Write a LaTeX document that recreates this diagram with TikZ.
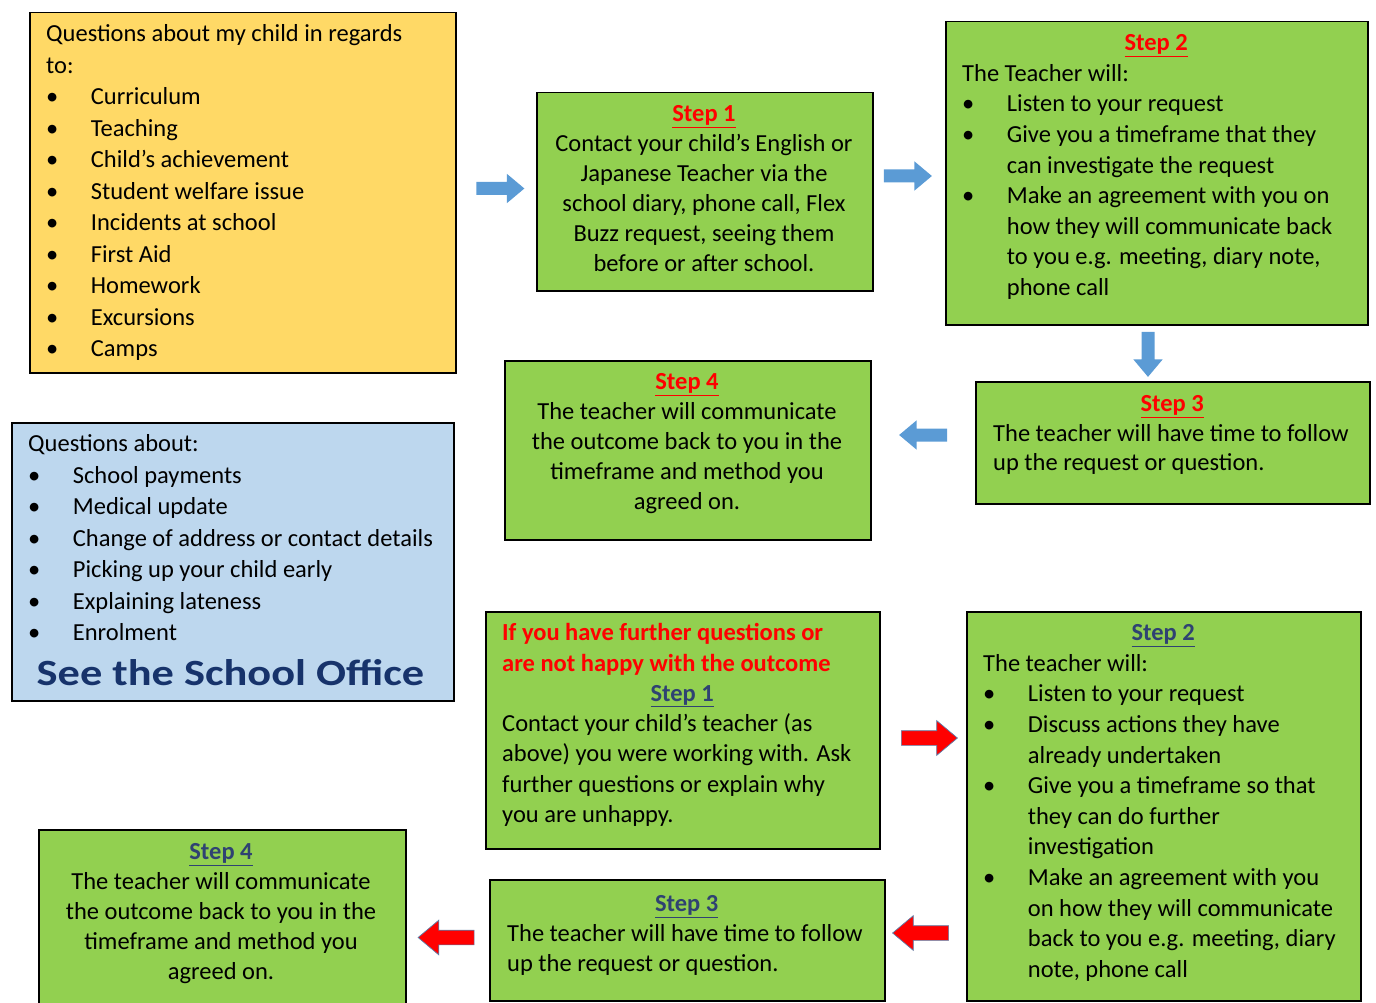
\documentclass[tikz,border=0pt]{standalone}
\usepackage{fontspec}
\setmainfont{Carlito}
\usetikzlibrary{shapes.arrows}
\definecolor{boxgreen}{HTML}{92D050}
\definecolor{boxyellow}{HTML}{FFD966}
\definecolor{boxblue}{HTML}{BDD7EE}
\definecolor{arrowblue}{HTML}{5B9BD5}
\definecolor{arrowedge}{HTML}{5A7FAA}
\definecolor{stepblue}{HTML}{2F4272}
\definecolor{officeblue}{HTML}{17336B}
\newcommand{\bul}{\makebox[44.7pt][l]{\textbullet}}
\newcommand{\ind}{\hspace*{44.7pt}}
\newcommand{\redstep}[1]{\textcolor{red}{\underline{\textbf{#1}}}}
\newcommand{\bluestep}[1]{\textcolor{stepblue}{\underline{\textbf{#1}}}}

\begin{document}
\begin{tikzpicture}[x=1pt,y=-1pt,
  box/.style={draw=black,line width=1.5pt,rectangle,inner sep=0pt,anchor=north west},
  greenbox/.style={box,fill=boxgreen},
  txt/.style={inner sep=0pt,anchor=north west,align=left,font=\fontsize{24.5}{30.6}\selectfont},
  txtwide/.style={txt,font=\fontsize{24.5}{31.5}\selectfont},
  txtthirty/.style={txt,font=\fontsize{24.5}{30}\selectfont},
  bluearrow/.style={single arrow,fill=arrowblue,draw=none,inner xsep=0pt,inner ysep=6.3pt,
    single arrow head extend=8.2pt,single arrow tip angle=80,minimum height=48pt},
  redarrow/.style={single arrow,fill=red,draw=arrowedge,line width=0.7pt,inner xsep=0pt,inner ysep=7pt,
    single arrow head extend=10pt,single arrow tip angle=80,minimum height=56pt}]
\useasboundingbox (0,0) rectangle (1376,1003);
% draw boxes
\node[box,fill=boxyellow,minimum width=426pt,minimum height=360pt] (child) at (29,12) {};
\node[box,fill=boxblue,minimum width=442pt,minimum height=278pt] (office) at (11,422) {};
\node[greenbox,minimum width=336pt,minimum height=198pt] (stepA) at (536,92) {};
\node[greenbox,minimum width=422pt,minimum height=303pt] (stepB) at (945,21) {};
\node[greenbox,minimum width=394pt,minimum height=122pt] (stepC) at (975,381) {};
\node[greenbox,minimum width=366pt,minimum height=179pt] (stepD) at (504,360) {};
\node[greenbox,minimum width=394pt,minimum height=237pt] (furtherA) at (485,611) {};
\node[greenbox,minimum width=394pt,minimum height=389pt] (furtherB) at (966,611) {};
\node[greenbox,minimum width=395pt,minimum height=121pt] (furtherC) at (489,879) {};
\node[greenbox,minimum width=367pt,minimum height=185pt] (furtherD) at (38,829) {};
% draw arrows
\node[bluearrow] (arrAB) at (496.5,188.5) {};
\node[bluearrow] (arrBC) at (904,176) {};
\node[bluearrow,rotate=-90,minimum height=45pt] (arrCD) at (1148,350.5) {};
\node[bluearrow,shape border rotate=180] (arrDE) at (927,435) {};
\node[redarrow] (arrFG) at (925,738) {};
\node[redarrow,shape border rotate=180] (arrGH) at (925,933) {};
\node[redarrow,shape border rotate=180] (arrHI) at (450.5,937.5) {};
% draw texts
\node[txtwide] (childtext) at (46,19.5) {\strut Questions about my child in regards\\ to:\\
  \bul Curriculum\\ \bul Teaching\\ \bul Child’s achievement\\ \bul Student welfare issue\\
  \bul Incidents at school\\ \bul First Aid\\ \bul Homework\\ \bul Excursions\\ \bul Camps};
\node[txtwide] (officetext) at (28,429.5) {\strut Questions about:\\
  \bul School payments\\ \bul Medical update\\ \bul Change of address or contact details\\
  \bul Picking up your child early\\ \bul Explaining lateness\\ \bul Enrolment};
\node[inner sep=0pt,anchor=base,text=officeblue,
  font=\fontsize{37}{40}\selectfont\bfseries\addfontfeatures{FakeStretch=1.2}] (officename) at (230.5,685) {See the School Office};
\node[txtthirty,anchor=north,align=center] (stepAtext) at (704,100.5) {\strut\redstep{Step 1}\\
  Contact your child’s English or\\ Japanese Teacher via the\\ school diary, phone call, Flex\\
  Buzz request, seeing them\\ before or after school.};
\node[txt] (stepBtext) at (962,29) {\makebox[388pt]{\strut\redstep{Step 2}}\\ The Teacher will:\\
  \bul Listen to your request\\ \bul Give you a timeframe that they\\ \ind can investigate the request\\
  \bul Make an agreement with you on\\ \ind how they will communicate back\\
  \ind to you e.g. meeting, diary note,\\ \ind phone call};
\node[txt,font=\fontsize{24.5}{29.5}\selectfont] (stepCtext) at (993,390.8) {\makebox[358pt]{\strut\redstep{Step 3}}\\
  The teacher will have time to follow\\ up the request or question.};
\node[txtthirty,anchor=north,align=center] (stepDtext) at (687,368.5) {\strut\redstep{Step 4}\\
  The teacher will communicate\\ the outcome back to you in the\\ timeframe and method you\\ agreed on.};
\node[txt,font=\fontsize{24.5}{30.3}\selectfont] (furtherAtext) at (502,619.3) {\strut\textcolor{red}{\textbf{If you have further questions or}}\\
  \textcolor{red}{\textbf{are not happy with the outcome}}\\ \makebox[360pt]{\bluestep{Step 1}}\\
  Contact your child’s teacher (as\\ above) you were working with. Ask\\
  further questions or explain why\\ you are unhappy.};
\node[txt] (furtherBtext) at (983,619.1) {\makebox[360pt]{\strut\bluestep{Step 2}}\\ The teacher will:\\
  \bul Listen to your request\\ \bul Discuss actions they have\\ \ind already undertaken\\
  \bul Give you a timeframe so that\\ \ind they can do further\\ \ind investigation\\
  \bul Make an agreement with you\\ \ind on how they will communicate\\
  \ind back to you e.g. meeting, diary\\ \ind note, phone call};
\node[txtthirty] (furtherCtext) at (507,890.5) {\makebox[359pt]{\strut\bluestep{Step 3}}\\
  The teacher will have time to follow\\ up the request or question.};
\node[txtthirty,anchor=north,align=center] (furtherDtext) at (221,838.5) {\strut\bluestep{Step 4}\\
  The teacher will communicate\\ the outcome back to you in the\\ timeframe and method you\\ agreed on.};
\end{tikzpicture}
\end{document}
